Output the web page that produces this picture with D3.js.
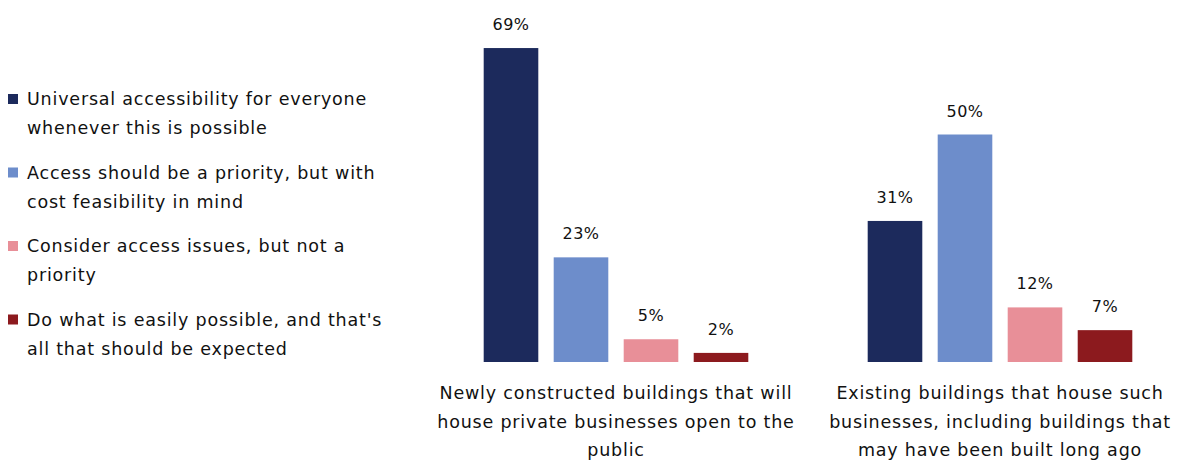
<!DOCTYPE html>
<html>
<head>
<meta charset="utf-8">
<script src="https://cdn.jsdelivr.net/npm/d3@7/dist/d3.min.js"></script>
<style>
  html, body { margin: 0; padding: 0; background: #ffffff; }
  svg { display: block; }
  text { font-family: "DejaVu Sans", "Liberation Sans", sans-serif; fill: #111111; }
</style>
</head>
<body>
<svg id="chart" width="1178" height="464"></svg>
<script>
// Survey responses: which standard of accessibility should apply
const categories = [
  "Newly constructed buildings that will\nhouse private businesses open to the\npublic",
  "Existing buildings that house such\nbusinesses, including buildings that\nmay have been built long ago"
];
const seriesNames = [
  "Universal accessibility for everyone\nwhenever this is possible",
  "Access should be a priority, but with\ncost feasibility in mind",
  "Consider access issues, but not a\npriority",
  "Do what is easily possible, and that's\nall that should be expected"
];
const seriesColors = ["#1c2a5c", "#6d8dcb", "#e88f98", "#8c1a1e"];
const newBuildings = [69, 23, 5, 2];
const existingBuildings = [31, 50, 12, 7];
const values = [newBuildings, existingBuildings];

const svg = d3.select("#chart");

// Scales
const x0 = d3.scaleBand()
  .domain(d3.range(categories.length))
  .range([424, 1192])
  .paddingInner(0.2708)
  .paddingOuter(0.1354);

const x1 = d3.scaleBand()
  .domain(d3.range(seriesNames.length))
  .range([0, x0.bandwidth()])
  .paddingInner(0.22)
  .paddingOuter(0.11);

const y = d3.scaleLinear().domain([0, 70]).range([362, 43.5]);

// Bars
const groups = svg.append("g").selectAll("g")
  .data(values)
  .join("g")
  .attr("transform", (d, i) => `translate(${x0(i)},0)`);

groups.selectAll("rect")
  .data(d => d.map((v, j) => ({ v, j })))
  .join("rect")
  .attr("x", d => x1(d.j))
  .attr("width", x1.bandwidth())
  .attr("y", d => y(d.v))
  .attr("height", d => y(0) - y(d.v))
  .attr("fill", d => seriesColors[d.j]);

// Value labels
groups.selectAll("text.val")
  .data(d => d.map((v, j) => ({ v, j })))
  .join("text")
  .attr("class", "val")
  .attr("x", d => x1(d.j) + x1.bandwidth() / 2)
  .attr("y", d => y(d.v) - 18)
  .attr("text-anchor", "middle")
  .style("font-size", "16px")
  .style("letter-spacing", "0.5px")
  .text(d => d.v + "%");

// Category axis (line hidden), labels wrapped on explicit breaks
const xAxis = d3.axisBottom(x0).tickSize(0).tickFormat("");
svg.append("g").attr("transform", `translate(0,${y(0)})`).call(xAxis)
  .call(g => g.select(".domain").remove());

const catText = svg.append("g").selectAll("text")
  .data(categories)
  .join("text")
  .attr("text-anchor", "middle")
  .attr("x", (d, i) => x0(i) + x0.bandwidth() / 2)
  .attr("y", 399)
  .style("font-size", "17.5px")
  .style("letter-spacing", "0.8px");
catText.selectAll("tspan")
  .data(d => d.split("\n"))
  .join("tspan")
  .attr("x", function () { return this.parentNode.getAttribute("x"); })
  .attr("dy", (d, k) => k === 0 ? 0 : 28.5)
  .text(d => d);

// Legend
const legend = svg.append("g").selectAll("g")
  .data(seriesNames)
  .join("g")
  .attr("transform", (d, i) => `translate(8,${99 + i * 73.5})`);

legend.append("rect")
  .attr("x", 0)
  .attr("y", -5)
  .attr("width", 10)
  .attr("height", 10)
  .attr("fill", (d, i) => seriesColors[i]);

const legText = legend.append("text")
  .attr("x", 19)
  .attr("y", 6)
  .style("font-size", "17.5px")
  .style("letter-spacing", "0.8px");
legText.selectAll("tspan")
  .data(d => d.split("\n"))
  .join("tspan")
  .attr("x", 19)
  .attr("dy", (d, k) => k === 0 ? 0 : 29)
  .text(d => d);
</script>
</body>
</html>
